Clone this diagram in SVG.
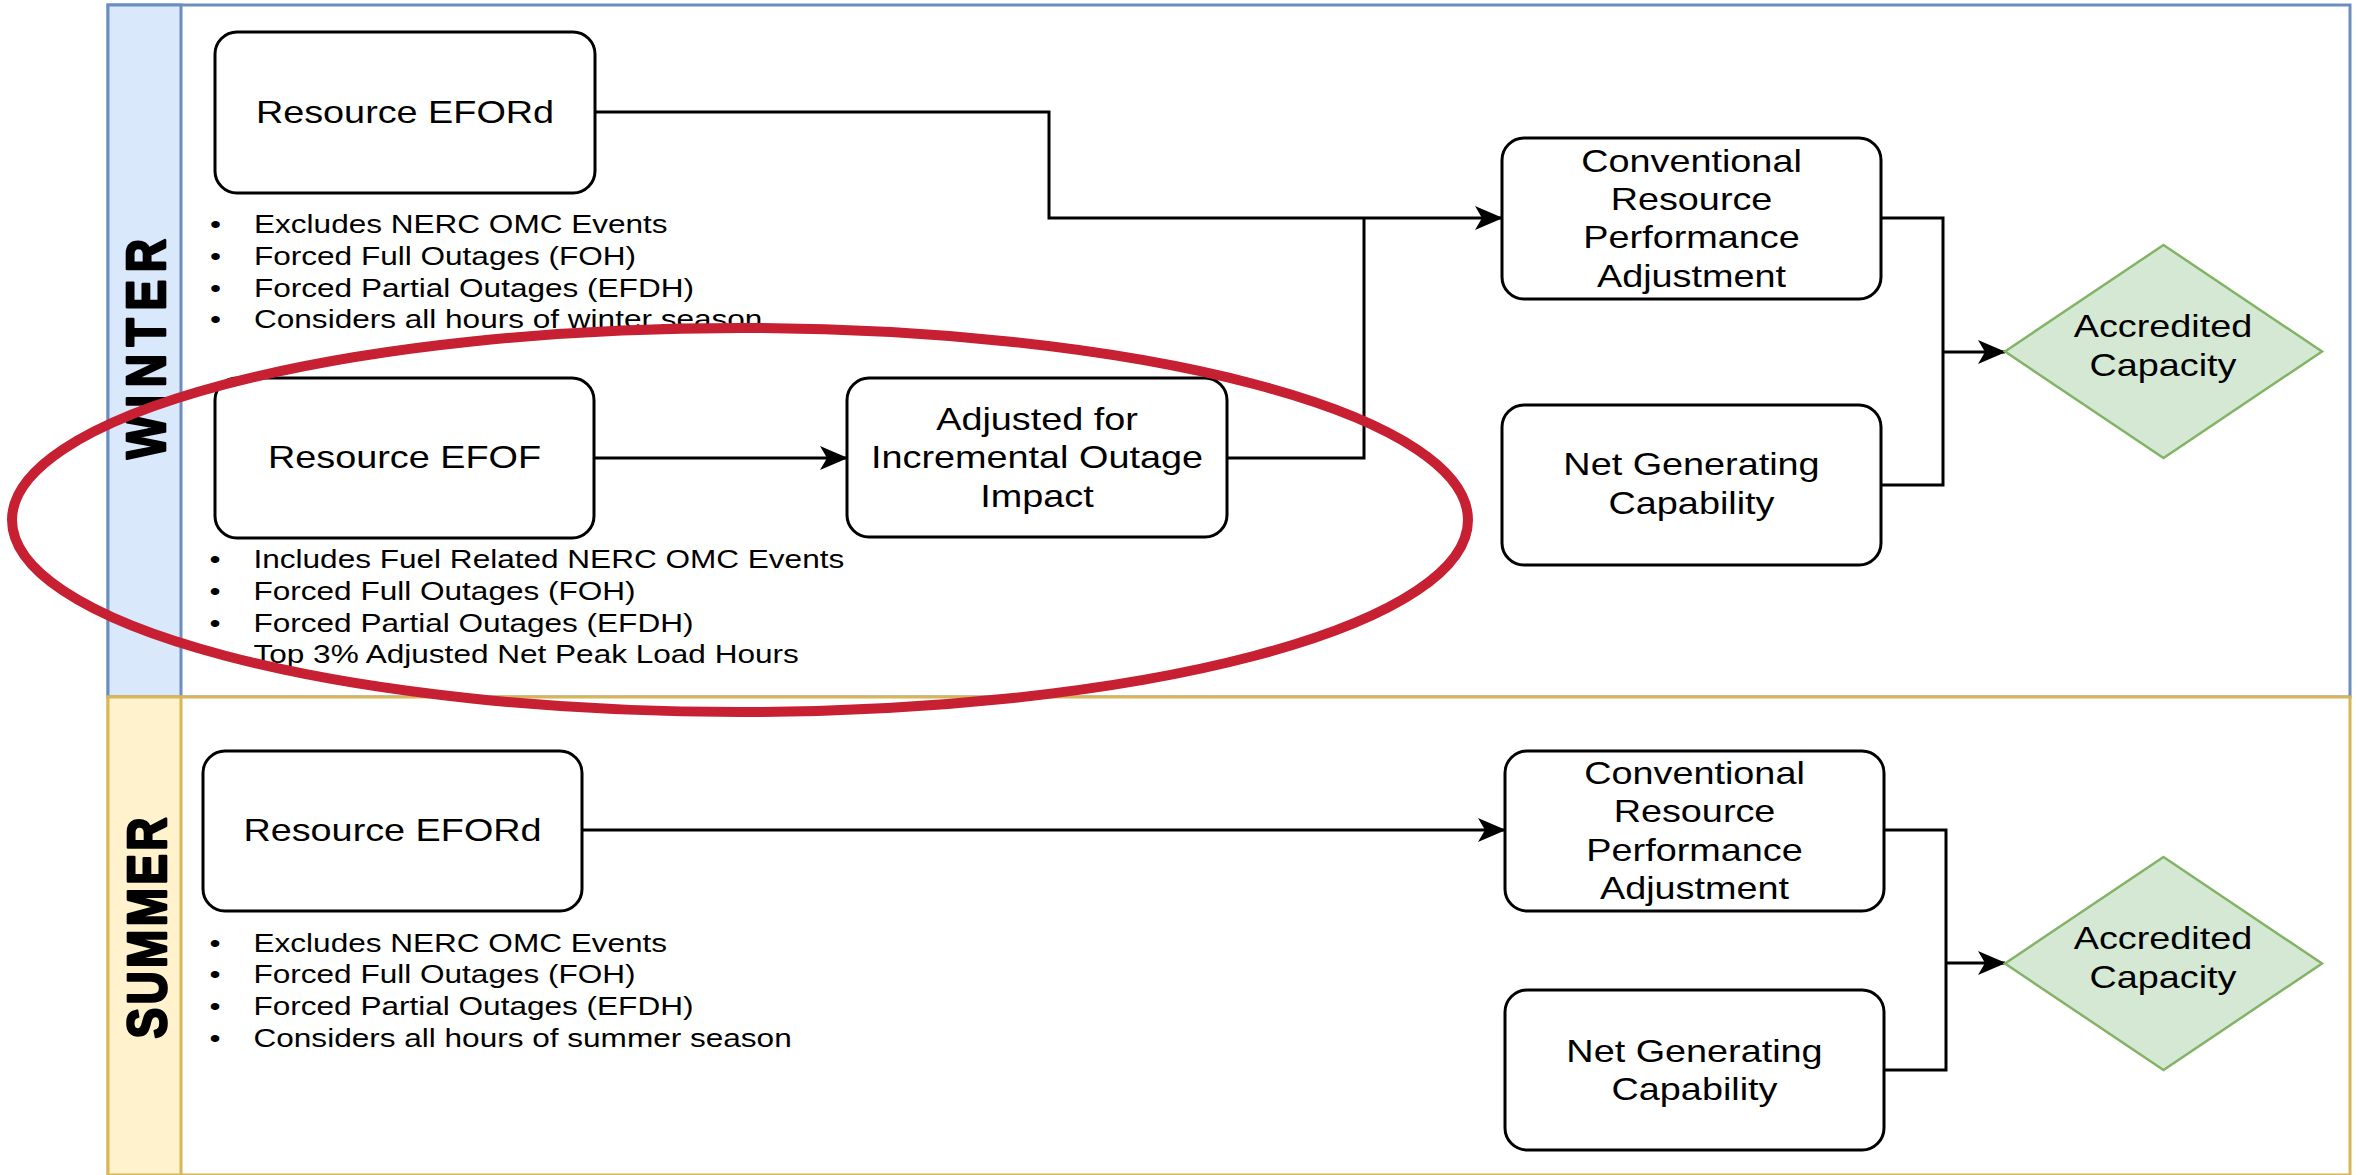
<svg xmlns="http://www.w3.org/2000/svg" width="2357" height="1175" viewBox="0 0 2357 1175">
<style>
.box{fill:#ffffff;stroke:#000000;stroke-width:3}
.dia{fill:#d5e8d4;stroke:#82b366;stroke-width:2.5}
.n{font-family:"Liberation Sans",Arial,sans-serif;font-size:31.5px;fill:#000000;text-anchor:middle}
.b{font-family:"Liberation Sans",Arial,sans-serif;font-size:26.3px;fill:#000000}
.lane{font-family:"Liberation Sans",Arial,sans-serif;font-size:46px;font-weight:bold;fill:#000000;stroke:#000000;stroke-width:2.2;stroke-linejoin:round;text-anchor:middle}
.conn{fill:none;stroke:#000000;stroke-width:3}
</style>
<defs>
<marker id="arr" markerUnits="userSpaceOnUse" viewBox="0 0 28 24" refX="27" refY="12" markerWidth="28" markerHeight="24" orient="auto">
<path d="M0,0 L28,12 L0,24 L7,12 z" fill="#000000"/>
</marker>
</defs>
<rect x="0" y="0" width="2357" height="1175" fill="#ffffff"/>

<g id="lane-winter">
<rect x="108" y="5" width="2242" height="692" fill="#ffffff" stroke="#6c8ebf" stroke-width="3"/>
<rect x="108" y="5" width="73" height="692" fill="#dae8fc" stroke="#6c8ebf" stroke-width="3"/>
<text class="lane" transform="translate(145,349) rotate(-90) scale(1,1.2)" x="0" y="16.5" textLength="220" lengthAdjust="spacing">WINTER</text>
</g>
<g id="lane-summer">
<rect x="108" y="697" width="2242" height="478" fill="#ffffff" stroke="#d6b656" stroke-width="3"/>
<rect x="108" y="697" width="73" height="478" fill="#fff2cc" stroke="#d6b656" stroke-width="3"/>
<text class="lane" transform="translate(146,928) rotate(-90) scale(1,1.2)" x="0" y="16.5" textLength="221" lengthAdjust="spacing">SUMMER</text>
</g>

<g id="connectors">
<path class="conn" d="M595,112 H1049 V218 H1502" marker-end="url(#arr)"/>
<path class="conn" d="M594,458 H847" marker-end="url(#arr)"/>
<path class="conn" d="M1227,458 H1364 V218"/>
<path class="conn" d="M1881,218 H1943 V485 H1881"/>
<path class="conn" d="M1943,352 H2005" marker-end="url(#arr)"/>
<path class="conn" d="M582,830 H1505" marker-end="url(#arr)"/>
<path class="conn" d="M1884,830 H1946 V1070 H1884"/>
<path class="conn" d="M1946,963 H2005" marker-end="url(#arr)"/>
</g>

<g id="winter-efordd">
<rect class="box" x="215" y="32" width="380" height="161" rx="22" ry="22"/>
<g transform="translate(405,0) scale(1.2,1)"><text class="n" x="0" y="123">Resource EFORd</text></g>
</g>
<g id="winter-efordd-notes" transform="translate(254,0) scale(1.2,1)">
<text class="b" x="-36.7" y="233">•</text><text class="b" x="0" y="233">Excludes NERC OMC Events</text>
<text class="b" x="-36.7" y="265">•</text><text class="b" x="0" y="265">Forced Full Outages (FOH)</text>
<text class="b" x="-36.7" y="297">•</text><text class="b" x="0" y="297">Forced Partial Outages (EFDH)</text>
<text class="b" x="-36.7" y="328.5">•</text><text class="b" x="0" y="328.5">Considers all hours of winter season</text>
</g>

<g id="winter-efof">
<rect class="box" x="215" y="378" width="379" height="160" rx="22" ry="22"/>
<g transform="translate(404.5,0) scale(1.2,1)"><text class="n" x="0" y="468">Resource EFOF</text></g>
</g>
<g id="winter-efof-notes" transform="translate(253.5,0) scale(1.2,1)">
<text class="b" x="-36.7" y="568">•</text><text class="b" x="0" y="568">Includes Fuel Related NERC OMC Events</text>
<text class="b" x="-36.7" y="600">•</text><text class="b" x="0" y="600">Forced Full Outages (FOH)</text>
<text class="b" x="-36.7" y="632">•</text><text class="b" x="0" y="632">Forced Partial Outages (EFDH)</text>
<text class="b" x="0" y="663">Top 3% Adjusted Net Peak Load Hours</text>
</g>

<g id="winter-adjusted">
<rect class="box" x="847" y="378" width="380" height="159" rx="22" ry="22"/>
<g transform="translate(1037,0) scale(1.2,1)">
<text class="n" x="0" y="430">Adjusted for</text>
<text class="n" x="0" y="468.5">Incremental Outage</text>
<text class="n" x="0" y="507">Impact</text>
</g>
</g>

<g id="winter-conventional">
<rect class="box" x="1502" y="138" width="379" height="161" rx="22" ry="22"/>
<g transform="translate(1691.5,0) scale(1.2,1)">
<text class="n" x="0" y="172">Conventional</text>
<text class="n" x="0" y="210">Resource</text>
<text class="n" x="0" y="248.5">Performance</text>
<text class="n" x="0" y="287">Adjustment</text>
</g>
</g>

<g id="winter-netgen">
<rect class="box" x="1502" y="405" width="379" height="160" rx="22" ry="22"/>
<g transform="translate(1691.5,0) scale(1.2,1)">
<text class="n" x="0" y="475.5">Net Generating</text>
<text class="n" x="0" y="514">Capability</text>
</g>
</g>

<g id="winter-accredited">
<path class="dia" d="M2163.5,245 L2322,351.5 L2163.5,458 L2005,351.5 Z"/>
<g transform="translate(2163,0) scale(1.2,1)">
<text class="n" x="0" y="337.5">Accredited</text>
<text class="n" x="0" y="376">Capacity</text>
</g>
</g>

<g id="summer-efordd">
<rect class="box" x="203" y="751" width="379" height="160" rx="22" ry="22"/>
<g transform="translate(392.5,0) scale(1.2,1)"><text class="n" x="0" y="841">Resource EFORd</text></g>
</g>
<g id="summer-efordd-notes" transform="translate(253.5,0) scale(1.2,1)">
<text class="b" x="-36.7" y="952">•</text><text class="b" x="0" y="952">Excludes NERC OMC Events</text>
<text class="b" x="-36.7" y="983.5">•</text><text class="b" x="0" y="983.5">Forced Full Outages (FOH)</text>
<text class="b" x="-36.7" y="1015">•</text><text class="b" x="0" y="1015">Forced Partial Outages (EFDH)</text>
<text class="b" x="-36.7" y="1047">•</text><text class="b" x="0" y="1047">Considers all hours of summer season</text>
</g>

<g id="summer-conventional">
<rect class="box" x="1505" y="751" width="379" height="160" rx="22" ry="22"/>
<g transform="translate(1694.5,0) scale(1.2,1)">
<text class="n" x="0" y="784">Conventional</text>
<text class="n" x="0" y="822">Resource</text>
<text class="n" x="0" y="861">Performance</text>
<text class="n" x="0" y="899">Adjustment</text>
</g>
</g>

<g id="summer-netgen">
<rect class="box" x="1505" y="990" width="379" height="160" rx="22" ry="22"/>
<g transform="translate(1694.5,0) scale(1.2,1)">
<text class="n" x="0" y="1062">Net Generating</text>
<text class="n" x="0" y="1100.5">Capability</text>
</g>
</g>

<g id="summer-accredited">
<path class="dia" d="M2163.5,857 L2322,963.5 L2163.5,1070 L2005,963.5 Z"/>
<g transform="translate(2163,0) scale(1.2,1)">
<text class="n" x="0" y="949.5">Accredited</text>
<text class="n" x="0" y="988">Capacity</text>
</g>
</g>

<g id="highlight">
<ellipse cx="740" cy="520" rx="728" ry="192" fill="none" stroke="#c62032" stroke-width="10"/>
</g>
</svg>
